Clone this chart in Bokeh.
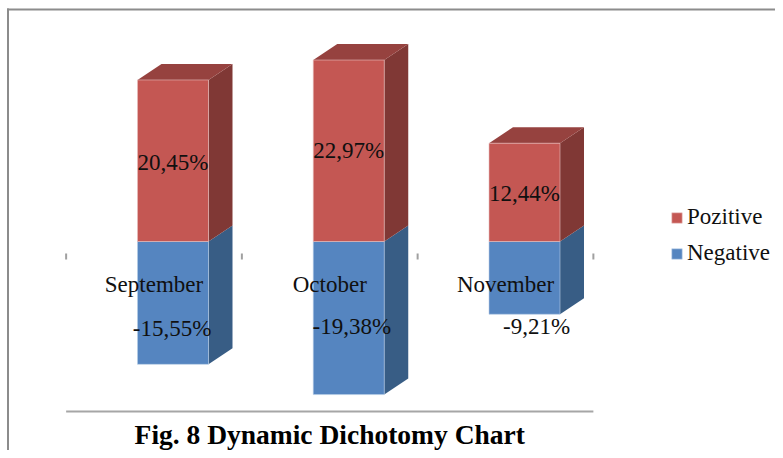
from bokeh.plotting import figure
from bokeh.embed import file_html
from bokeh.resources import INLINE
from bokeh.models import Range1d, Legend, LegendItem
from bokeh.core.properties import value

months = ["September", "October", "November"]
pozitive = [20.45, 22.97, 12.44]
negative = [-15.55, -19.38, -9.21]
pos_labels = ["20,45%", "22,97%", "12,44%"]
neg_labels = ["-15,55%", "-19,38%", "-9,21%"]
title_text = "Fig. 8 Dynamic Dichotomy Chart"

W, H = 775, 450
PX_X = 175.75        # pixels per category
PX_Y = 7.9           # pixels per percent
ZERO_X = 153.5       # canvas px of first category centre
ZERO_Y = 241         # canvas px of value 0
dx = 1 / PX_X
dy = 1 / PX_Y

p = figure(width=W, height=H, output_backend="svg", toolbar_location=None,
           x_range=Range1d(-ZERO_X * dx, (W - ZERO_X) * dx),
           y_range=Range1d(-(H - ZERO_Y) * dy, ZERO_Y * dy),
           min_border=0, outline_line_color=None, background_fill_color="white")
p.axis.visible = False
p.grid.visible = False

x_left, x_right = p.x_range.start, p.x_range.end
y_bot, y_top = p.y_range.start, p.y_range.end

# outer frame (top and left edges)
p.line([x_left + 7.5 * dx, x_left + 7.5 * dx], [y_bot, y_top - 8 * dy], line_color="#8c8c8c", line_width=2)
p.line([x_left + 6.5 * dx, x_right], [y_top - 9 * dy, y_top - 9 * dy], line_color="#8c8c8c", line_width=2)

# axis floor and tick marks
n = len(months)
edges = [i - 0.5 for i in range(n + 1)]
FLOOR = -170 * dy
p.line([edges[0], edges[-1]], [FLOOR, FLOOR], line_color="#a6a6a6", line_width=2)
p.segment(edges, [-12 * dy] * (n + 1), edges, [-18 * dy] * (n + 1), line_color="#a0a0a0", line_width=2)

# 3-D bars
OFF = 19 * dx
BW = 71 * dx
DX = 24 * dx
DY = 16 * dy
idx = list(range(n))
lefts = [i + OFF - BW / 2 for i in idx]
rights = [i + OFF + BW / 2 for i in idx]


def sides(vals, color):
    xs = [[r, r + DX, r + DX, r] for r in rights]
    ys = [[0, DY, v + DY, v] for v in vals]
    p.patches(xs, ys, fill_color=color, line_color=None)


sides(negative, "#385d85")
sides(pozitive, "#803835")
p.patches([[l, r, r + DX, l + DX] for l, r in zip(lefts, rights)],
          [[v, v, v + DY, v + DY] for v in pozitive],
          fill_color="#96423f", line_color=None)
neg_r = p.quad(left=lefts, right=rights, top=[0] * n, bottom=negative,
               fill_color="#5585c0", line_color="#b8cde6", line_width=1, line_alpha=0.6)
pos_r = p.quad(left=lefts, right=rights, top=pozitive, bottom=[0] * n,
               fill_color="#c45753", line_color="#e8c0be", line_width=1, line_alpha=0.6)

FONT = value("Liberation Serif")
p.text([i + 0.0 for i in idx], [-43 * dy] * n, text=months, text_font=FONT, text_font_size="23px",
       text_align="center", text_baseline="middle", text_color="#101010")
p.text([i + OFF for i in idx],
       [v / 2 + s * dy for v, s in zip(pozitive, [-2, 0, -1])],
       text=pos_labels, text_font=FONT, text_font_size="23px",
       text_align="center", text_baseline="middle", text_color="#101010")
p.text([i + o * dx for i, o in zip(idx, [18, 22, 31])], [-87 * dy, -85 * dy, -85 * dy],
       text=neg_labels, text_font=FONT, text_font_size="23px",
       text_align="center", text_baseline="middle", text_color="#101010")
p.text([(edges[0] + edges[-1]) / 2], [-193 * dy], text=[title_text], text_font=FONT,
       text_font_size="27.5px", text_font_style="bold", text_align="center",
       text_baseline="middle", text_color="black")

legend = Legend(items=[LegendItem(label="Pozitive", renderers=[pos_r]),
                       LegendItem(label="Negative", renderers=[neg_r])],
                location=(670, 184), orientation="vertical", border_line_color=None,
                background_fill_alpha=0, padding=0, margin=0, spacing=10,
                glyph_width=13, glyph_height=13, label_standoff=4,
                label_text_font="Liberation Serif", label_text_font_size="23px",
                label_text_color="#101010")
p.add_layout(legend, "center")

open("out.html", "w").write(file_html(p, INLINE))
